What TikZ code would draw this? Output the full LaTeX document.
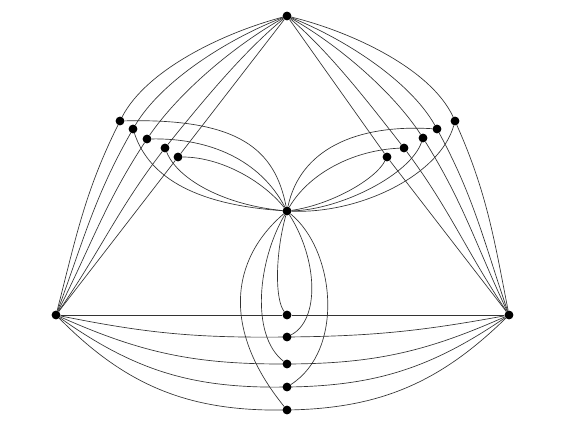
\documentclass[tikz,border=0pt]{standalone}
\usetikzlibrary{arrows}

\tikzset{
  dot/.style={circle,fill=black,inner sep=0pt,minimum size=6.4pt},
  edge/.style={draw=black!80,line width=0.5pt},
  arc/.style={looseness=0.8}
}

\begin{document}
\begin{tikzpicture}[x=0.75pt,y=0.75pt,yscale=-1,xscale=1]
\useasboundingbox (0,0) rectangle (575,431);

%Shape: Vertices, outer triangle and centre
\node [dot] (t) at (287,16) {};
\node [dot] (lf) at (56,315) {};
\node [dot] (rt) at (509,315) {};
\node [dot] (c) at (287,211) {};
%Shape: Vertices, left group
\node [dot] (l1) at (120,121) {};
\node [dot] (l2) at (133,129) {};
\node [dot] (l3) at (147,139) {};
\node [dot] (l4) at (165,148) {};
\node [dot] (l5) at (178,157) {};
%Shape: Vertices, right group
\node [dot] (r1) at (455,121) {};
\node [dot] (r2) at (437,129) {};
\node [dot] (r3) at (423,138) {};
\node [dot] (r4) at (404,148) {};
\node [dot] (r5) at (387,157) {};
%Shape: Vertices, bottom group
\node [dot] (b1) at (287,315) {};
\node [dot] (b2) at (287,337) {};
\node [dot] (b3) at (287,364) {};
\node [dot] (b4) at (287,387) {};
\node [dot] (b5) at (287,410) {};

%Curve Lines: top -- left, through the left group
\draw [edge] (t) to[arc,out=163,in=-66] (l1) to[out=114,in=-77] (lf);
\draw [edge] (t) to[arc,out=155.7,in=-63] (l2) to[out=117,in=-71.7] (lf);
\draw [edge] (t) to[arc,out=146.9,in=-59.6] (l3) to[out=120.4,in=-65.6] (lf);
\draw [edge] (t) to[arc,out=136.3,in=-55.5] (l4) to[out=124.5,in=-58.2] (lf);
\draw [edge] (t) -- (l5) -- (lf);
%Curve Lines: top -- right, through the right group
\draw [edge] (t) to[arc,out=15.7,in=248.3] (r1) to[out=68.3,in=260.1] (rt);
\draw [edge] (t) to[arc,out=24.8,in=244.2] (r2) to[out=64.2,in=253] (rt);
\draw [edge] (t) to[arc,out=33.4,in=240.9] (r3) to[out=60.9,in=247.1] (rt);
\draw [edge] (t) to[arc,out=44.8,in=236.4] (r4) to[out=56.4,in=239.1] (rt);
\draw [edge] (t) -- (r5) -- (rt);
%Curve Lines: left -- right, through the bottom group
\draw [edge] (lf) -- (b1) -- (rt);
\draw [edge] (lf) to[bend left=6] (b2) to[bend left=5] (rt);
\draw [edge] (lf) to[bend left=12] (b3) to[bend left=12] (rt);
\draw [edge] (lf) to[bend left=18] (b4) to[bend left=17] (rt);
\draw [edge] (lf) to[bend left=23] (b5) to[bend left=22] (rt);

%Curve Lines: left group -- centre
\draw [edge] (l1) .. controls (240,118) and (275,150) .. (c);
\draw [edge] (l2) .. controls (150,180) and (200,205) .. (c);
\draw [edge] (l3) .. controls (210,138) and (260,160) .. (c);
\draw [edge] (l4) .. controls (178,180) and (225,205) .. (c);
\draw [edge] (l5) .. controls (220,157) and (262,180) .. (c);
%Curve Lines: right group -- centre
\draw [edge] (r1) .. controls (440,175) and (360,214) .. (c);
\draw [edge] (r2) .. controls (355,124) and (300,150) .. (c);
\draw [edge] (r3) .. controls (410,175) and (340,210) .. (c);
\draw [edge] (r4) .. controls (355,150) and (310,172) .. (c);
\draw [edge] (r5) .. controls (375,180) and (330,205) .. (c);
%Curve Lines: centre -- bottom group
\draw [edge] (c) .. controls (275,255) and (275,300) .. (b1);
\draw [edge] (c) .. controls (318,260) and (320,320) .. (b2);
\draw [edge] (c) .. controls (258,260) and (250,335) .. (b3);
\draw [edge] (c) .. controls (335,250) and (345,350) .. (b4);
\draw [edge] (c) .. controls (230,260) and (222,330) .. (b5);

%Shape: dots again on top of the lines
\foreach \v in {t,lf,rt,c,l1,l2,l3,l4,l5,r1,r2,r3,r4,r5,b1,b2,b3,b4,b5}
  \fill (\v) circle (3.2pt);
\end{tikzpicture}
\end{document}
